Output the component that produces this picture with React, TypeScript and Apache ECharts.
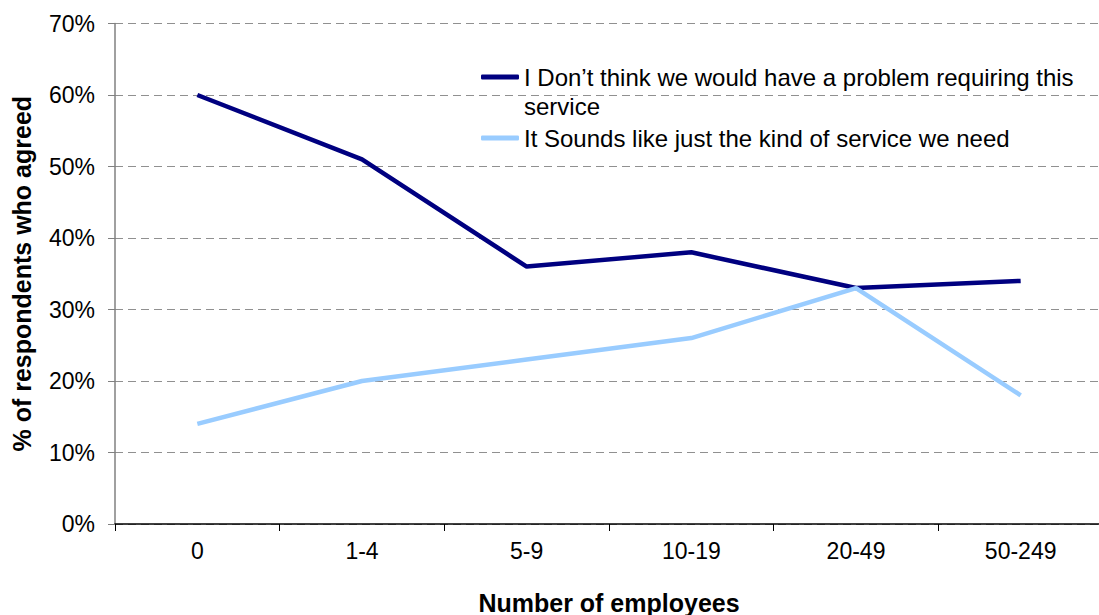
import React, { useEffect, useRef } from "react";
import * as echarts from "echarts";

const categories = ["0", "1-4", "5-9", "10-19", "20-49", "50-249"];
const seriesNames = [
  "I Don\u2019t think we would have a problem requiring this service",
  "It Sounds like just the kind of service we need",
];
const problemValues = [60, 51, 36, 38, 33, 34];
const needValues = [14, 20, 23, 26, 33, 18];
const colors = ["#000080", "#99CCFF"];

export default function App() {
  const ref = useRef<HTMLDivElement>(null);
  useEffect(() => {
    if (!ref.current) return;
    const chart = echarts.init(ref.current, null, { renderer: "svg" });
    const font = "'Liberation Sans', Arial, sans-serif";
    const legendText = { fontSize: 24, color: "#000", fontFamily: font, lineHeight: 29 };
    chart.setOption({
      animation: false,
      textStyle: { fontFamily: font },
      grid: {
        left: 115,
        top: 23.5,
        bottom: 91,
        right: -4,
        containLabel: false,
        outerBoundsMode: "none",
      },
      legend: [
        {
          data: [seriesNames[0]],
          left: 476,
          top: 28.5,
          orient: "vertical",
          icon: "roundRect",
          itemWidth: 38,
          itemHeight: 5,
          formatter: () =>
            "\nI Don\u2019t think we would have a problem requiring this\nservice",
          textStyle: legendText,
        },
        {
          data: [seriesNames[1]],
          left: 476,
          top: 118.5,
          orient: "vertical",
          icon: "roundRect",
          itemWidth: 38,
          itemHeight: 5,
          textStyle: legendText,
        },
      ],
      xAxis: {
        type: "category",
        data: categories,
        boundaryGap: true,
        name: "Number of employees",
        nameLocation: "middle",
        nameGap: 66,
        nameTextStyle: { fontSize: 25, fontWeight: "bold", color: "#000", fontFamily: font },
        axisLine: { lineStyle: { color: "#000", width: 1.5 } },
        axisTick: { show: true, length: 7, lineStyle: { color: "#000" } },
        axisLabel: { fontSize: 23, color: "#000", margin: 15, fontFamily: font },
        splitLine: { show: false },
      },
      yAxis: {
        type: "value",
        min: 0,
        max: 70,
        interval: 10,
        name: "% of respondents who agreed",
        nameLocation: "middle",
        nameGap: 81,
        nameRotate: 90,
        nameTextStyle: { fontSize: 25, fontWeight: "bold", color: "#000", fontFamily: font },
        axisLine: { show: true, lineStyle: { color: "#808080", width: 1.5 } },
        axisTick: { show: true, length: 7, lineStyle: { color: "#808080" } },
        axisLabel: { fontSize: 23, color: "#000", margin: 20, formatter: "{value}%", fontFamily: font },
        splitLine: { show: true, lineStyle: { color: "#909090", type: [8, 5], width: 1 } },
      },
      series: [
        {
          name: seriesNames[0],
          type: "line",
          data: problemValues,
          symbol: "none",
          lineStyle: { color: colors[0], width: 4.5 },
          itemStyle: { color: colors[0] },
        },
        {
          name: seriesNames[1],
          type: "line",
          data: needValues,
          symbol: "none",
          lineStyle: { color: colors[1], width: 4.5 },
          itemStyle: { color: colors[1] },
        },
      ],
    });
    return () => chart.dispose();
  }, []);
  return (
    <div
      ref={ref}
      style={{ position: "absolute", left: 0, top: 0, width: 1099, height: 615, background: "#fff" }}
    />
  );
}
